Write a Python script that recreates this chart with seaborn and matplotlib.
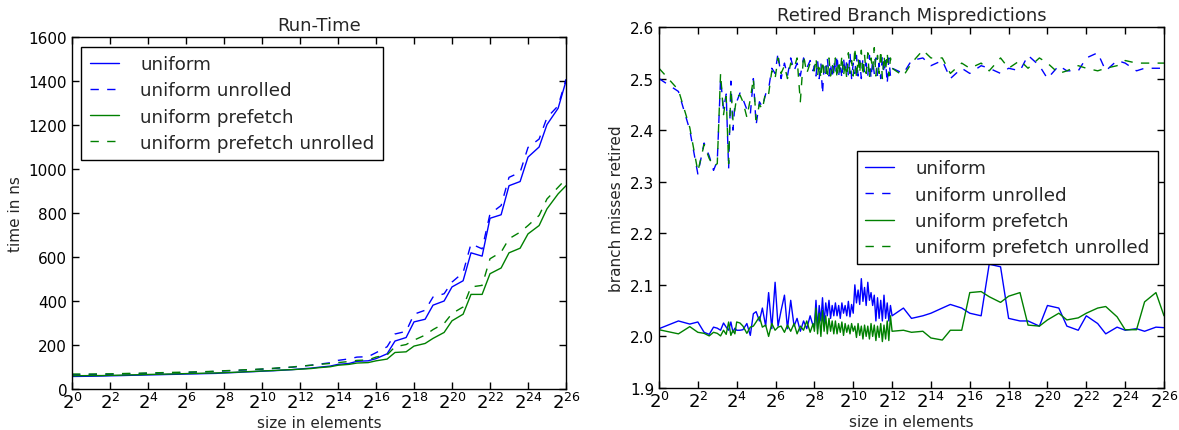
import numpy as np
import pandas as pd
import matplotlib
matplotlib.use("Agg")
import matplotlib.pyplot as plt
from matplotlib.ticker import FormatStrFormatter
import seaborn as sns

# ---------------- data: Run-Time (left) ----------------
rt_sizes = [1, 2, 3, 4, 6, 8, 12, 16, 24, 32, 48, 64, 96, 128, 192, 256, 384, 512, 768,
            1024, 1536, 2048, 3072, 4096, 6144, 8192, 12288, 16384, 24576, 32768, 49152,
            65536, 98304, 131072, 196608, 262144, 393216, 524288, 786432, 1048576,
            1572864, 2097152, 3145728, 4194304, 6291456, 8388608, 12582912, 16777216,
            25165824, 33554432, 50331648, 67108864]
rt_uniform = [57, 58, 59, 60, 61, 62, 63, 64, 65, 66, 67, 68, 69, 70, 71, 73, 75, 77, 79,
              81, 83, 85, 88, 91, 95, 99, 104, 112, 116, 126, 128, 138, 160, 218, 234,
              305, 317, 381, 400, 464, 492, 619, 604, 776, 792, 924, 943, 1054, 1100,
              1202, 1276, 1400]
rt_uniform_unrolled = [65, 66, 66, 67, 68, 69, 70, 71, 72, 73, 74, 75, 77, 78, 80, 82, 84, 86,
                       88, 90, 93, 96, 99, 103, 108, 113, 119, 130, 137, 145, 147, 165, 192,
                       250, 262, 340, 358, 418, 433, 486, 529, 660, 637, 796, 834, 962, 985,
                       1098, 1136, 1234, 1287, 1408]
rt_prefetch = [60, 61, 61, 62, 63, 64, 65, 66, 67, 68, 69, 70, 71, 72, 73, 74, 76, 78, 80,
               82, 84, 86, 88, 90, 93, 97, 101, 108, 112, 118, 120, 128, 136, 166, 169,
               195, 207, 230, 257, 310, 340, 430, 430, 524, 550, 619, 640, 705, 743, 819,
               887, 924]
rt_prefetch_unrolled = [68, 68, 69, 69, 70, 71, 72, 73, 74, 75, 76, 77, 78, 79, 81, 83, 85,
                        87, 89, 91, 94, 97, 100, 104, 108, 112, 116, 120, 125, 130, 132, 145,
                        155, 192, 202, 222, 245, 270, 298, 343, 373, 464, 471, 592, 622, 683,
                        713, 743, 789, 864, 917, 955]

# ---------------- data: Retired Branch Mispredictions (right) ----------------
bm_sizes_a = list(range(1, 17))
bm_sizes_b = [18, 20, 23, 26, 29, 32, 36, 40, 45, 50, 56, 63, 70, 78, 88, 98, 110, 124, 138,
              155, 174, 195, 220, 245]
bm_sizes_c = [256, 271, 287, 304, 323, 342, 362, 384, 406, 431, 456, 483, 512, 542, 575, 609,
              645, 683, 724, 767, 813, 861, 912, 966, 1024, 1085, 1149, 1218, 1290, 1367,
              1448, 1534, 1625, 1722, 1825, 1933, 2048, 2170, 2299, 2435, 2580, 2734, 2896,
              3069, 3251, 3444, 3649, 3866, 4096]
bm_sizes_d = [6144, 8192, 12288, 16384, 24576, 32768, 49152, 65536, 98304, 131072, 196608,
              262144, 393216, 524288, 786432, 1048576, 1572864, 2097152, 3145728, 4194304,
              6291456, 8388608, 12582912, 16777216, 25165824, 33554432, 50331648, 67108864]

bm_uniform = (
    [2.015, 2.030, 2.024, 2.028, 2.008, 2.004, 2.018, 2.016, 2.012, 2.026, 2.018, 2.012,
     2.028, 2.008, 2.016, 2.012]
    + [2.012, 2.013, 2.025, 2.002, 2.044, 2.048, 2.030, 2.055, 2.020, 2.085, 2.015, 2.105,
       2.020, 2.050, 2.080, 2.015, 2.070, 2.020, 2.035, 2.010, 2.030, 2.015, 2.040, 2.020]
    + [2.020, 2.070, 2.015, 2.060, 2.030, 2.075, 2.025, 2.065, 2.040, 2.070, 2.035, 2.060,
       2.040, 2.065, 2.040, 2.060, 2.035, 2.065, 2.045, 2.060, 2.040, 2.068, 2.038, 2.062,
       2.045, 2.100, 2.065, 2.090, 2.062, 2.112, 2.068, 2.095, 2.060, 2.105, 2.070, 2.085,
       2.060, 2.080, 2.030, 2.075, 2.035, 2.070, 2.030, 2.080, 2.035, 2.065, 2.030, 2.060,
       2.040]
    + [2.055, 2.035, 2.040, 2.045, 2.055, 2.062, 2.055, 2.045, 2.040, 2.140, 2.135, 2.035,
       2.030, 2.030, 2.020, 2.060, 2.055, 2.020, 2.012, 2.040, 2.025, 2.005, 2.018, 2.012,
       2.015, 2.010, 2.018, 2.017])
bm_uniform_unrolled = (
    [2.500, 2.475, 2.400, 2.315, 2.375, 2.350, 2.322, 2.340, 2.500, 2.440, 2.470, 2.325,
     2.495, 2.400, 2.450, 2.455]
    + [2.472, 2.460, 2.440, 2.430, 2.500, 2.410, 2.455, 2.445, 2.470, 2.480, 2.520, 2.510,
       2.550, 2.500, 2.530, 2.505, 2.540, 2.515, 2.530, 2.505, 2.540, 2.520, 2.535, 2.515]
    + [2.525, 2.505, 2.535, 2.500, 2.530, 2.470, 2.525, 2.510, 2.540, 2.505, 2.530, 2.500,
       2.535, 2.510, 2.545, 2.505, 2.530, 2.500, 2.540, 2.510, 2.535, 2.505, 2.550, 2.500,
       2.530, 2.510, 2.545, 2.505, 2.535, 2.500, 2.540, 2.510, 2.530, 2.505, 2.545, 2.500,
       2.535, 2.510, 2.540, 2.505, 2.530, 2.500, 2.545, 2.510, 2.535, 2.490, 2.540, 2.505,
       2.520]
    + [2.510, 2.535, 2.540, 2.525, 2.535, 2.500, 2.520, 2.510, 2.525, 2.520, 2.510, 2.520,
       2.515, 2.545, 2.525, 2.500, 2.525, 2.515, 2.515, 2.540, 2.550, 2.515, 2.535, 2.530,
       2.515, 2.520, 2.520, 2.520])
bm_prefetch = (
    [2.013, 2.005, 2.019, 2.008, 2.006, 2.001, 2.008, 2.006, 2.001, 2.012, 2.004, 2.028,
     2.002, 2.012, 2.005, 2.028]
    + [2.026, 2.020, 2.006, 2.018, 2.020, 2.028, 2.038, 2.018, 2.022, 2.000, 2.025, 2.012,
       2.018, 2.020, 2.008, 2.022, 2.010, 2.025, 2.005, 2.020, 2.012, 2.030, 2.008, 2.025]
    + [2.010, 2.055, 2.005, 2.045, 2.000, 2.050, 2.010, 2.040, 2.005, 2.035, 2.010, 2.030,
       2.005, 2.030, 2.005, 2.025, 2.008, 2.028, 2.002, 2.025, 2.008, 2.022, 2.005, 2.025,
       2.010, 2.020, 1.998, 2.025, 2.002, 2.020, 1.995, 2.022, 2.000, 2.020, 1.995, 2.025,
       2.000, 2.022, 1.992, 2.020, 1.998, 2.025, 1.990, 2.022, 1.995, 2.030, 1.992, 2.040,
       2.010]
    + [2.012, 2.008, 2.010, 1.997, 1.993, 2.012, 2.012, 2.085, 2.087, 2.077, 2.066, 2.078,
       2.085, 2.022, 2.020, 2.032, 2.045, 2.032, 2.036, 2.045, 2.055, 2.058, 2.038, 2.013,
       2.013, 2.067, 2.085, 2.040])
bm_prefetch_unrolled = (
    [2.520, 2.478, 2.405, 2.320, 2.372, 2.345, 2.330, 2.335, 2.510, 2.430, 2.465, 2.335,
     2.480, 2.420, 2.440, 2.465]
    + [2.468, 2.455, 2.425, 2.460, 2.500, 2.420, 2.450, 2.440, 2.475, 2.470, 2.515, 2.500,
       2.540, 2.510, 2.525, 2.500, 2.530, 2.520, 2.540, 2.455, 2.545, 2.510, 2.530, 2.520]
    + [2.515, 2.540, 2.505, 2.530, 2.500, 2.535, 2.510, 2.525, 2.500, 2.540, 2.505, 2.530,
       2.510, 2.540, 2.500, 2.535, 2.510, 2.545, 2.505, 2.530, 2.500, 2.550, 2.510, 2.535,
       2.505, 2.560, 2.500, 2.540, 2.510, 2.555, 2.505, 2.545, 2.510, 2.550, 2.500, 2.540,
       2.515, 2.560, 2.505, 2.545, 2.510, 2.555, 2.500, 2.545, 2.515, 2.550, 2.505, 2.540,
       2.520]
    + [2.505, 2.530, 2.555, 2.540, 2.540, 2.510, 2.530, 2.520, 2.530, 2.515, 2.540, 2.520,
       2.535, 2.520, 2.540, 2.530, 2.510, 2.515, 2.525, 2.520, 2.515, 2.520, 2.525, 2.535,
       2.530, 2.530, 2.530, 2.530])
bm_sizes = bm_sizes_a + bm_sizes_b + bm_sizes_c + bm_sizes_d

labels = ["uniform", "uniform unrolled", "uniform prefetch", "uniform prefetch unrolled"]
exp_ticks = list(range(0, 27, 2))

# ---------------- style ----------------
sns.set_style("white")
plt.rcParams.update({
    "font.family": ["DejaVu Sans"],
    "axes.edgecolor": "black",
    "axes.linewidth": 1.0,
    "lines.linewidth": 1.0,
    "lines.dashed_pattern": [6, 6],
    "xtick.direction": "in",
    "ytick.direction": "in",
    "xtick.top": True,
    "ytick.right": True,
    "xtick.bottom": True,
    "ytick.left": True,
    "mathtext.default": "regular",
})

BLUE = (0, 0, 1)
GREEN = (0, 0.5, 0)
styles = [(BLUE, "-"), (BLUE, "--"), (GREEN, "-"), (GREEN, "--")]

W, H = 1179, 431
fig = plt.figure(figsize=(W / 100, H / 100), dpi=100)
ax1 = fig.add_axes([72 / W, 1 - 390 / H, (566 - 72) / W, (390 - 38) / H])
ax2 = fig.add_axes([659 / W, 1 - 389 / H, (1164 - 659) / W, (389 - 28) / H])


def draw(ax, xs, series):
    for ys, lab, (c, ls) in zip(series, labels, styles):
        df = pd.DataFrame({"size": xs, "value": ys})
        sns.lineplot(data=df, x="size", y="value", ax=ax, color=c, linestyle=ls,
                     label=lab, linewidth=1.0, estimator=None)
    ax.set_xscale("log", base=2)
    ax.set_xlim(1, 2 ** 26)
    ax.set_xticks([2 ** k for k in exp_ticks])
    ax.set_xticklabels([f"$2^{{{k}}}$" for k in exp_ticks])
    ax.xaxis.set_minor_locator(matplotlib.ticker.NullLocator())
    ax.tick_params(axis="both", which="major", labelsize=11, length=5, width=1,
                   colors="black")
    ax.tick_params(axis="x", labelsize=13, pad=2)
    ax.set_xlabel("size in elements", fontsize=11, labelpad=2)
    ax.grid(False)


def legend(ax, loc, anchor):
    leg = ax.legend(loc=loc, bbox_to_anchor=anchor, borderaxespad=0,
                    fontsize=13.2, frameon=True, fancybox=False, handlelength=1.6,
                    handletextpad=1.15, labelspacing=0.45, borderpad=0.45)
    leg.get_frame().set_edgecolor("black")
    leg.get_frame().set_linewidth(1.0)
    leg.get_frame().set_alpha(1)
    return leg


draw(ax1, rt_sizes, [rt_uniform, rt_uniform_unrolled, rt_prefetch, rt_prefetch_unrolled])
ax1.set_ylim(0, 1600)
ax1.set_yticks(range(0, 1601, 200))
ax1.set_ylabel("time in ns", fontsize=11)
ax1.set_title("Run-Time", fontsize=13, pad=5)
legend(ax1, "upper left", (0.019, 0.972))

draw(ax2, bm_sizes, [bm_uniform, bm_uniform_unrolled, bm_prefetch, bm_prefetch_unrolled])
ax2.set_ylim(1.9, 2.6)
ax2.set_yticks(np.round(np.arange(1.9, 2.61, 0.1), 1))
ax2.yaxis.set_major_formatter(FormatStrFormatter("%.1f"))
ax2.set_ylabel("branch misses retired", fontsize=11)
ax2.set_title("Retired Branch Mispredictions", fontsize=13, pad=5)
legend(ax2, "upper right", (0.988, 0.656))

fig.savefig("out.png", dpi=100)
